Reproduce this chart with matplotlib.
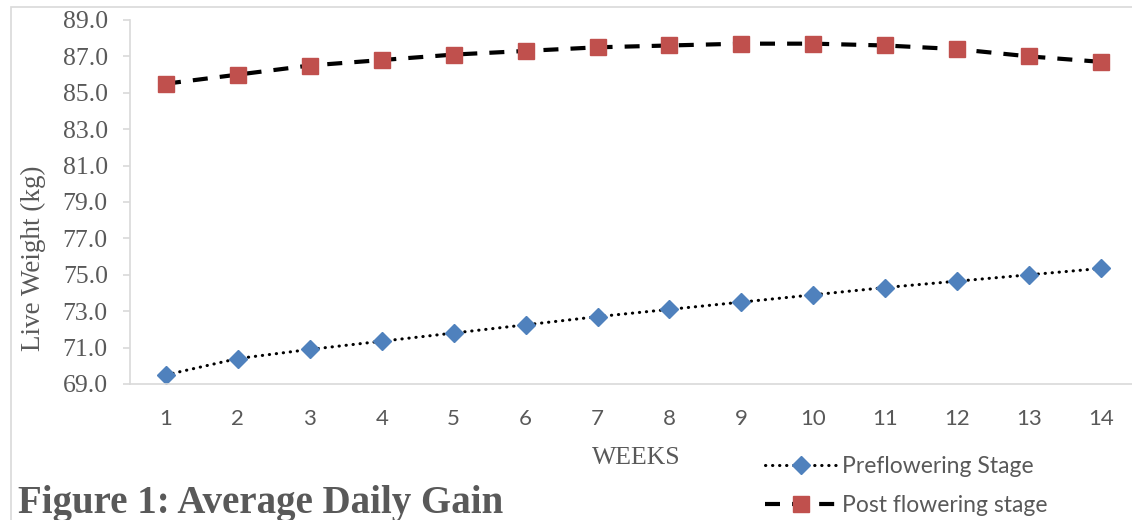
import matplotlib
matplotlib.use("Agg")
import matplotlib.pyplot as plt
from matplotlib.patches import Rectangle

weeks = [1, 2, 3, 4, 5, 6, 7, 8, 9, 10, 11, 12, 13, 14]
preflowering = [69.5, 70.4, 70.9, 71.35, 71.8, 72.25, 72.7, 73.1, 73.5, 73.9, 74.3, 74.65, 75.0, 75.35]
post_flowering = [85.5, 86.0, 86.5, 86.8, 87.1, 87.3, 87.5, 87.6, 87.7, 87.7, 87.6, 87.4, 87.0, 86.7]
yticks = [69.0, 71.0, 73.0, 75.0, 77.0, 79.0, 81.0, 83.0, 85.0, 87.0, 89.0]

sans = 'Lato'
serif = 'Liberation Serif'
grey = '#595959'

W, H = 1132, 520
fig = plt.figure(figsize=(W / 100, H / 100), dpi=100)

# outer chart border
fig.patches.append(Rectangle((11 / W, -0.1), 1.2, 1 - 7 / H + 0.1, transform=fig.transFigure,
                             fill=False, edgecolor='#D9D9D9', linewidth=1.2))

ax = fig.add_axes([130 / W, 1 - 384 / H, 1007 / W, 364 / H])
ax.plot(weeks, preflowering, color='black', linewidth=2.2, linestyle=(0, (0.1, 2.2)),
        dash_capstyle='round', marker='D', markersize=9.5, markerfacecolor='#4F81BD',
        markeredgecolor='#4F81BD', label='Preflowering Stage')
ax.plot(weeks, post_flowering, color='black', linewidth=3.0, linestyle=(0, (3.6, 2.9)),
        marker='s', markersize=11.5, markerfacecolor='#C0504D',
        markeredgecolor='#C0504D', label='Post flowering stage')

ax.set_xlim(0.5, 14.5)
ax.set_ylim(69, 89)
ax.set_yticks(yticks)
ax.set_yticklabels([f"{v:.1f}" for v in yticks], fontfamily=serif, fontsize=18.5, color=grey)
ax.set_xticks(weeks)
ax.set_xticklabels([str(w) for w in weeks], fontfamily=sans, fontsize=16, color=grey)
ax.tick_params(axis='y', length=5, color='#D9D9D9', width=1.2, pad=11)
ax.tick_params(axis='x', length=0, pad=18)
for s in ['top', 'right']:
    ax.spines[s].set_visible(False)
ax.spines['left'].set_color('#D9D9D9')
ax.spines['bottom'].set_color('#D9D9D9')
ax.spines['left'].set_linewidth(1.2)
ax.spines['bottom'].set_linewidth(1.2)

fig.text(33 / W, 1 - 258 / H, 'Live Weight (kg)', fontfamily=serif, fontsize=19.5,
         color=grey, rotation=90, ha='center', va='center')
fig.text(636 / W, 1 - 458 / H, 'WEEKS', fontfamily=serif, fontsize=18.5, color=grey,
         ha='center', va='center')

handles, labels = ax.get_legend_handles_labels()
fig.legend(handles, labels, loc='center left', bbox_to_anchor=(756 / W, 1 - 486 / H),
           frameon=False, prop={'family': sans, 'size': 16.5}, handlelength=3.1,
           handletextpad=0.25, labelspacing=0.75, labelcolor=grey, borderaxespad=0)

fig.text(18 / W, 1 - 513 / H, 'Figure 1: Average Daily Gain', fontfamily=serif,
         fontweight='bold', fontsize=28, color=grey, ha='left', va='baseline')

fig.savefig('out.png', dpi=100)
